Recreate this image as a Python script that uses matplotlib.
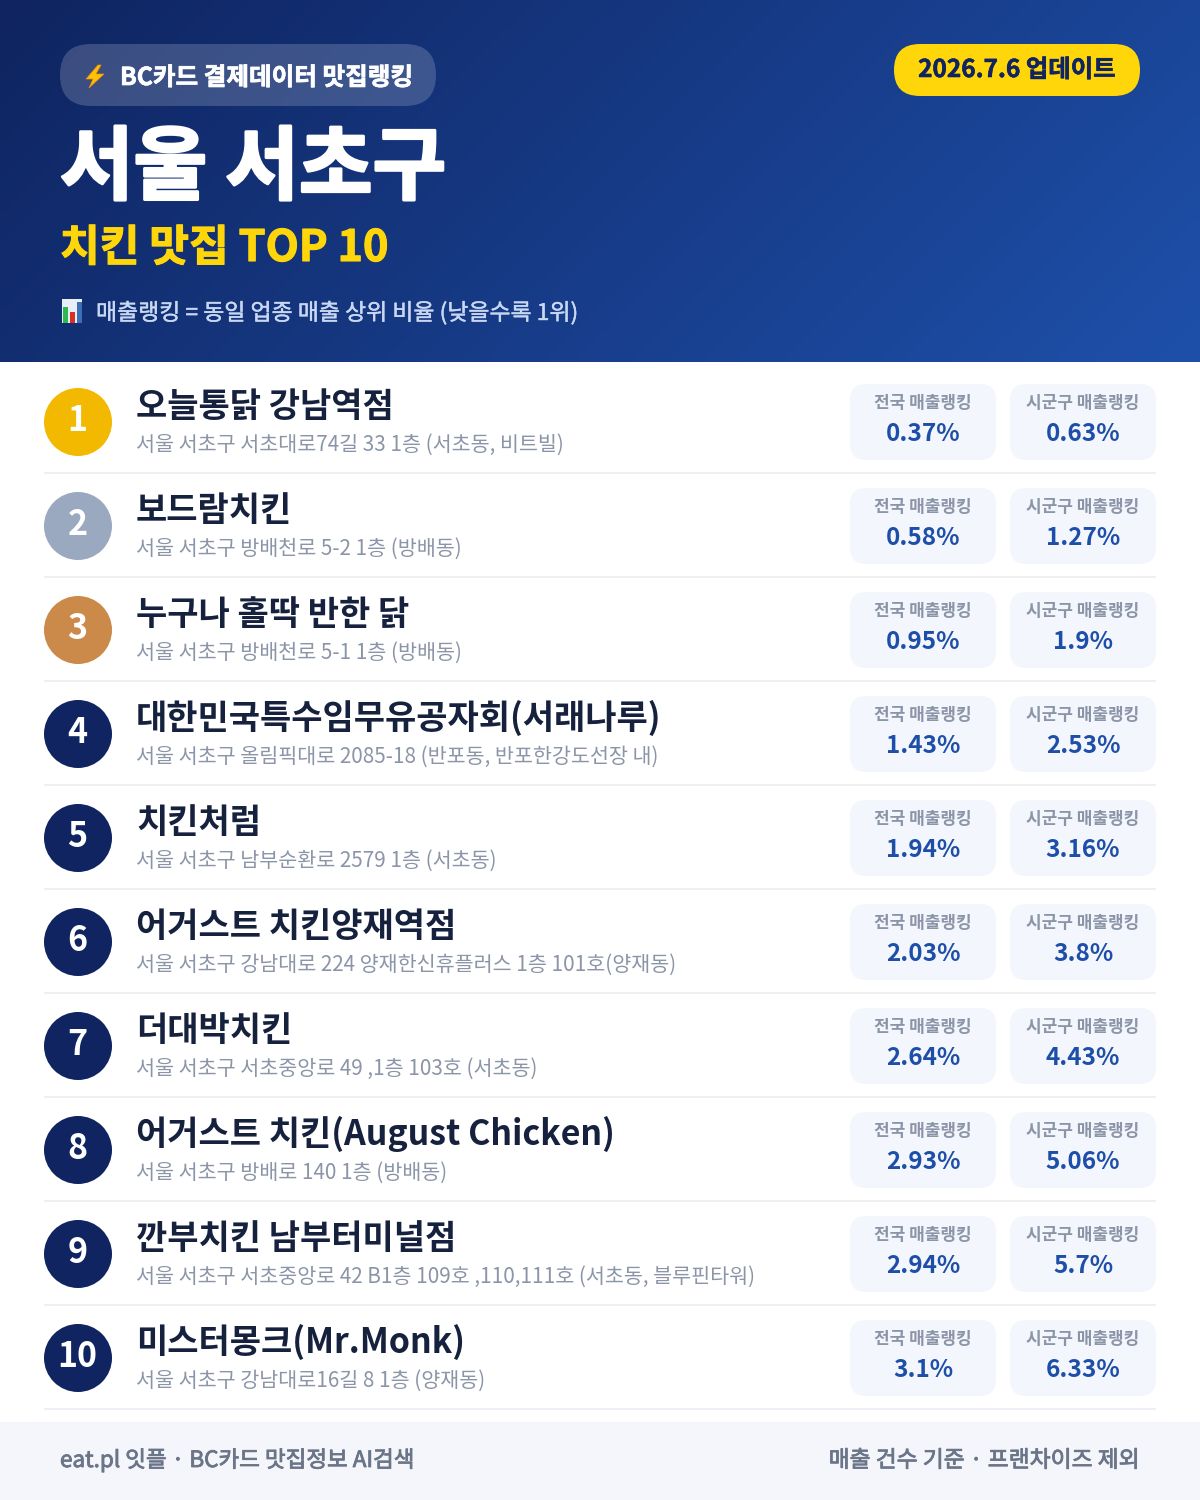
import numpy as np
import matplotlib
matplotlib.use('Agg')
import matplotlib.pyplot as plt
import matplotlib.patheffects as pe
from matplotlib.patches import Circle, FancyBboxPatch, Polygon, Rectangle

plt.rcParams['font.family'] = ['Noto Sans CJK KR', 'DejaVu Sans']

names = ['오늘통닭 강남역점', '보드람치킨', '누구나 홀딱 반한 닭', '대한민국특수임무유공자회(서래나루)', '치킨처럼',
         '어거스트 치킨양재역점', '더대박치킨', '어거스트 치킨(August Chicken)', '깐부치킨 남부터미널점', '미스터몽크(Mr.Monk)']
addresses = ['서울 서초구 서초대로74길 33 1층 (서초동, 비트빌)',
             '서울 서초구 방배천로 5-2 1층 (방배동)',
             '서울 서초구 방배천로 5-1 1층 (방배동)',
             '서울 서초구 올림픽대로 2085-18 (반포동, 반포한강도선장 내)',
             '서울 서초구 남부순환로 2579 1층 (서초동)',
             '서울 서초구 강남대로 224 양재한신휴플러스 1층 101호(양재동)',
             '서울 서초구 서초중앙로 49 ,1층 103호 (서초동)',
             '서울 서초구 방배로 140 1층 (방배동)',
             '서울 서초구 서초중앙로 42 B1층 109호 ,110,111호 (서초동, 블루핀타워)',
             '서울 서초구 강남대로16길 8 1층 (양재동)']
national = ['0.37%', '0.58%', '0.95%', '1.43%', '1.94%', '2.03%', '2.64%', '2.93%', '2.94%', '3.1%']
district = ['0.63%', '1.27%', '1.9%', '2.53%', '3.16%', '3.8%', '4.43%', '5.06%', '5.7%', '6.33%']
rank_colors = ['#F2B900', '#9BA9C0', '#CB8A4A'] + ['#0F2460'] * 7

NAVY = '#0F2460'
BLUE = '#1E4FA8'
YELLOW = '#FFD60A'


def px(size):
    # pixel height to points at dpi 100
    return size * 0.72


def pill(ax, x0, y0, x1, y1, r, **kw):
    box = FancyBboxPatch((x0 + r, y0 + r), x1 - x0 - 2 * r, y1 - y0 - 2 * r,
                         boxstyle='round,pad=%g,rounding_size=%g' % (r, r), linewidth=0, **kw)
    ax.add_patch(box)
    return box


def heavy(width, color):
    # thickens a font where only regular and bold are installed
    return [pe.withStroke(linewidth=width, foreground=color)]


fig = plt.figure(figsize=(12, 15), dpi=100)
ax = fig.add_axes([0, 0, 1, 1])
ax.set_xlim(0, 1200)
ax.set_ylim(1500, 0)
ax.axis('off')

# header gradient
w, h = 240, 72
gx, gy = np.meshgrid(np.linspace(0, 1, w), np.linspace(0, 1, h))
t = (gx * 1200 + gy * 362) / (1200 + 362)
c0 = np.array([15, 36, 96]) / 255
c1 = np.array([30, 80, 170]) / 255
grad = c0 + (c1 - c0) * t[..., None]
ax.imshow(grad, extent=(0, 1200, 362, 0), aspect='auto', zorder=0, interpolation='bilinear')
ax.set_xlim(0, 1200)
ax.set_ylim(1500, 0)

pill(ax, 60, 44, 436, 106, 31, facecolor='white', alpha=0.18, zorder=1)
ax.add_patch(Polygon([(98, 65), (86, 79), (93, 79), (89, 88), (104, 74), (96, 74), (101, 65)],
                     facecolor='#FFC107', edgecolor='#F08C00', linewidth=0.5, zorder=2))
ax.text(120, 85, 'BC카드 결제데이터 맛집랭킹', color='white', fontsize=px(24.6), fontweight='bold', zorder=2,
        path_effects=heavy(0.5, 'white'))

pill(ax, 894, 44, 1140, 96, 26, facecolor=YELLOW, zorder=1)
ax.text(1017, 77, '2026.7.6 업데이트', color=NAVY, fontsize=px(24.4), fontweight='bold', ha='center', zorder=2,
        path_effects=heavy(0.4, NAVY))

ax.text(60, 193, '서울 서초구', color='white', fontsize=px(80), fontweight='bold', zorder=2,
        path_effects=heavy(2.0, 'white'))
ax.text(60, 261, '치킨 맛집 TOP 10', color=YELLOW, fontsize=px(43.2), fontweight='bold', zorder=2,
        path_effects=heavy(0.8, YELLOW))

# chart icon in the note line
ax.add_patch(Rectangle((62, 299), 20, 24, facecolor='#E8EEF5', linewidth=0, zorder=2))
for bx, by, bc in [(63, 307, '#2EB84F'), (70, 312, '#D93025'), (77, 302, '#3C6FB5')]:
    ax.add_patch(Rectangle((bx, by), 4.5, 323 - by, facecolor=bc, linewidth=0, zorder=3))
ax.text(96, 320, '매출랭킹 = 동일 업종 매출 상위 비율 (낮을수록 1위)', color='#C9D8F2', fontsize=px(22.9), zorder=2,
        path_effects=heavy(0.3, '#C9D8F2'))

for i in range(len(names)):
    dy = 104 * i
    ax.add_patch(Circle((78, 422 + dy), 34, facecolor=rank_colors[i], linewidth=0, zorder=2))
    ax.text(77.5, 431 + dy, str(i + 1), color='white', fontsize=px(34), fontweight='bold', ha='center', zorder=3)
    ax.text(136, 417 + dy, names[i], color='#16213E', fontsize=px(34), fontweight='bold', zorder=2)
    ax.text(136, 451 + dy, addresses[i], color='#8B95A7', fontsize=px(20.7), zorder=2)

    for x0, label, val in [(850, '전국 매출랭킹', national[i]), (1010, '시군구 매출랭킹', district[i])]:
        pill(ax, x0, 384 + dy, x0 + 146, 460 + dy, 16, facecolor='#F3F6FC', zorder=1)
        ax.text(x0 + 73, 408 + dy, label, color='#8B95A7', fontsize=px(17), fontweight='bold', ha='center', zorder=2)
        ax.text(x0 + 73, 441 + dy, val, color=BLUE, fontsize=px(24.3), fontweight='bold', ha='center', zorder=2)

    ax.plot([44, 1156], [473 + dy, 473 + dy], color='#EDEFF3', linewidth=1.5, zorder=1, solid_capstyle='butt')

# footer
ax.add_patch(Rectangle((0, 1422), 1200, 78, facecolor='#F4F6FB', linewidth=0, zorder=1))
ax.text(60, 1467, 'eat.pl 잇플 · BC카드 맛집정보 AI검색', color='#6B7588', fontsize=px(22.5), zorder=2,
        path_effects=heavy(0.6, '#6B7588'))
ax.text(1140, 1467, '매출 건수 기준 · 프랜차이즈 제외', color='#6B7588', fontsize=px(22.8), ha='right', zorder=2,
        path_effects=heavy(0.6, '#6B7588'))

fig.savefig('out.png', dpi=100)
